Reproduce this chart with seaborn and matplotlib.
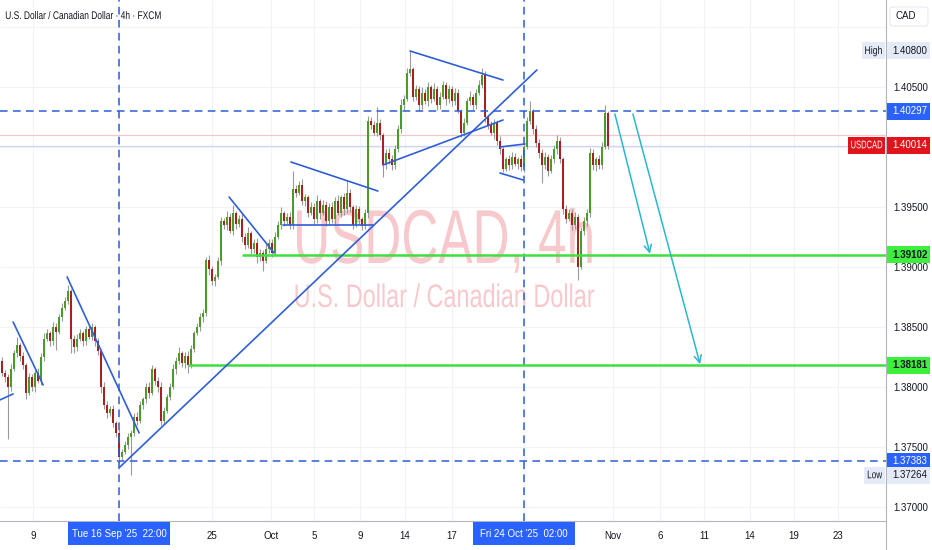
import numpy as np
import pandas as pd
import matplotlib
matplotlib.use("Agg")
import matplotlib.pyplot as plt
import matplotlib.transforms as mtransforms
from matplotlib import patheffects as pe
from matplotlib.patches import Rectangle, FancyBboxPatch
import seaborn as sns

# 4h candles (index = candle number)
first_open = 1.3822
closes = [
    1.3812, 1.3808, 1.3800, 1.3815, 1.3828, 1.3835, 1.3826, 1.3818, 1.3795, 1.3808,
    1.3800, 1.3812, 1.3805, 1.3825, 1.3840, 1.3845, 1.3838, 1.3850, 1.3846, 1.3858,
    1.3866, 1.3872, 1.3880, 1.3840, 1.3833, 1.3840, 1.3845, 1.3838, 1.3848, 1.3842,
    1.3850, 1.3838, 1.3830, 1.3800, 1.3785, 1.3778, 1.3782, 1.3770, 1.3762, 1.3742,
    1.3746, 1.3752, 1.3758, 1.3762, 1.3775, 1.3772, 1.3785, 1.3790, 1.3800, 1.3795,
    1.3815, 1.3805, 1.3800, 1.3772, 1.3780, 1.3792, 1.3800, 1.3815, 1.3822, 1.3828,
    1.3820, 1.3826, 1.3818, 1.3832, 1.3845, 1.3850, 1.3858, 1.3862, 1.3906, 1.3898,
    1.3888, 1.3892, 1.3905, 1.3938, 1.3935, 1.3942, 1.3930, 1.3945, 1.3936, 1.3940,
    1.3925, 1.3918, 1.3928, 1.3915, 1.3920, 1.3908, 1.3912, 1.3905, 1.3915, 1.3920,
    1.3912, 1.3925, 1.3935, 1.3945, 1.3938, 1.3942, 1.3935, 1.3965, 1.3962, 1.3968,
    1.3955, 1.3958, 1.3945, 1.3950, 1.3940, 1.3955, 1.3945, 1.3952, 1.3938, 1.3950,
    1.3940, 1.3955, 1.3945, 1.3958, 1.3948, 1.3962, 1.3950, 1.3935, 1.3948, 1.3940,
    1.3934, 1.3945, 1.4022, 1.4018, 1.4012, 1.4020, 1.4010, 1.3985, 1.3995, 1.3990,
    1.3985, 1.3998, 1.4015, 1.4035, 1.4040, 1.4062, 1.4065, 1.4042, 1.4048, 1.4035,
    1.4045, 1.4038, 1.4050, 1.4040, 1.4048, 1.4035, 1.4042, 1.4052, 1.4040, 1.4048,
    1.4038, 1.4045, 1.4030, 1.4012, 1.4020, 1.4038, 1.4042, 1.4035, 1.4045, 1.4052,
    1.4060, 1.4025, 1.4018, 1.4012, 1.4020, 1.4005, 1.3998, 1.3982, 1.3990, 1.3985,
    1.3992, 1.3986, 1.3990, 1.3983, 1.4000, 1.4022, 1.4030, 1.4015, 1.4003, 1.3995,
    1.3985, 1.3992, 1.3980, 1.3990, 1.3998, 1.4005, 1.3990, 1.3948, 1.3940, 1.3945,
    1.3935, 1.3942, 1.3900, 1.3930, 1.3938, 1.3945, 1.3995, 1.3985, 1.3990, 1.3985,
    1.4000, 1.4028, 1.4001,
]
# wick lengths above / below the body, in pips
wick_up = [
    3, 2, 3, 4, 3, 7, 2, 3, 2, 4,   3, 2, 4, 3, 5, 3, 2, 4, 3, 3,
    4, 3, 5, 2, 3, 4, 3, 2, 3, 4,   3, 2, 3, 2, 4, 3, 2, 3, 2, 3,
    2, 3, 4, 2, 3, 4, 3, 2, 3, 4,   3, 2, 3, 4, 3, 2, 3, 4, 3, 5,
    2, 3, 4, 3, 2, 3, 4, 3, 2, 4,   3, 2, 3, 4, 3, 5, 3, 7, 2, 3,
    4, 3, 5, 2, 3, 4, 3, 2, 4, 3,   3, 4, 3, 5, 2, 3, 4, 15, 3, 4,
    5, 3, 2, 4, 3, 5, 2, 4, 3, 3,   4, 3, 5, 2, 4, 10, 3, 2, 4, 3,
    2, 3, 4, 3, 4, 13, 3, 2, 3, 4,  3, 4, 3, 5, 3, 4, 15, 2, 4, 3,
    5, 3, 4, 2, 5, 3, 4, 3, 2, 4,   3, 4, 3, 2, 4, 3, 5, 2, 3, 4,
    6, 3, 2, 4, 3, 2, 4, 3, 2, 3,   4, 3, 2, 3, 4, 3, 8, 2, 3, 4,
    3, 4, 2, 3, 4, 5, 3, 2, 4, 3,   3, 4, 2, 3, 4, 3, 4, 3, 2, 3,
    4, 7, 2,
]
wick_dn = [
    3, 4, 43, 3, 2, 3, 4, 3, 5, 2,  3, 4, 2, 3, 3, 2, 4, 3, 15, 2,
    3, 2, 3, 12, 5, 3, 2, 4, 3, 2,  3, 4, 3, 5, 3, 4, 2, 3, 4, 5,
    3, 2, 4, 31, 3, 4, 2, 3, 3, 4,  2, 3, 4, 4, 3, 2, 3, 2, 4, 3,
    3, 4, 6, 2, 3, 2, 3, 4, 3, 5,   3, 4, 2, 3, 3, 4, 2, 3, 4, 3,
    4, 3, 2, 4, 3, 5, 3, 8, 2, 3,   4, 3, 2, 3, 4, 2, 3, 3, 4, 2,
    3, 4, 3, 2, 4, 3, 5, 2, 4, 3,   3, 4, 2, 3, 5, 3, 4, 3, 2, 4,
    3, 2, 4, 3, 2, 3, 4, 10, 3, 4,  4, 3, 2, 3, 4, 2, 3, 4, 3, 5,
    3, 2, 4, 3, 2, 4, 3, 2, 5, 3,   4, 3, 2, 4, 3, 2, 3, 4, 3, 2,
    3, 4, 3, 2, 5, 3, 4, 3, 2, 4,   3, 2, 4, 3, 4, 2, 3, 4, 3, 4,
    15, 3, 4, 2, 3, 4, 3, 4, 3, 2,  4, 3, 11, 2, 3, 4, 3, 4, 5, 3,
    3, 2, 3,
]

date_ticks = [10.3, 70, 89.7, 104, 119.3, 134.3, 150, 203.7, 219.3, 234, 249.3, 264, 278.7]
date_labels = ['9', '25', 'Oct', '5', '9', '14', '17', 'Nov', '6', '11', '14', '19', '23']
marked_idx = [39, 174]
marked_labels = ["Tue 16 Sep '25  22:00", "Fri 24 Oct '25  02:00"]

price_ticks = [1.370, 1.375, 1.380, 1.385, 1.390, 1.395, 1.400, 1.405, 1.410]
hidden_ticks = [1.400, 1.410]   # covered by the USDCAD / CAD badges
dashed_levels = [1.40297, 1.37383]
green_levels = [1.39102, 1.38181]
green_start = [80, 62]
last_price = 1.40014
high_price = 1.40800
low_price = 1.37264

# drawn lines: (candle index, price) pairs
trend_lines = [
    [(39.3, 1.37333), (178.3, 1.40642)],
    [(-0.7, 1.37892), (3.7, 1.37942)],
    [(3.7, 1.38542), (13.7, 1.38017)],
    [(21.7, 1.38917), (45.7, 1.37617)],
    [(75.7, 1.39583), (90.7, 1.39117)],
    [(96.3, 1.39875), (125.3, 1.39633)],
    [(93.7, 1.39350), (123.7, 1.39350)],
    [(136.0, 1.40800), (167.0, 1.40558)],
    [(127.0, 1.39850), (167.0, 1.40225)],
    [(166.0, 1.40000), (174.3, 1.40025)],
    [(166.0, 1.39783), (173.7, 1.39725)],
]
arrows = [
    [(204.3, 1.40275), (216.0, 1.39110)],
    [(210.3, 1.40275), (232.7, 1.38190)],
]

df = pd.DataFrame({'close': closes})
df['open'] = [first_open] + closes[:-1]
df['high'] = df[['open', 'close']].max(axis=1) + np.array(wick_up) * 0.0001
df['low'] = df[['open', 'close']].min(axis=1) - np.array(wick_dn) * 0.0001
df['idx'] = np.arange(len(df))


class Squeeze(pe.AbstractPathEffect):
    """draw text narrower (the screenshot font is condensed)"""

    def __init__(self, sx, anchor='center'):
        super().__init__()
        self.sx = sx
        self.anchor = anchor

    def draw_path(self, renderer, gc, tpath, affine, rgbFace=None):
        ext = tpath.transformed(affine).get_extents()
        x0 = ext.x0 if self.anchor == 'left' else 0.5 * (ext.x0 + ext.x1)
        aff = affine + mtransforms.Affine2D().translate(-x0, 0).scale(self.sx, 1).translate(x0, 0)
        renderer.draw_path(gc, tpath, aff, rgbFace)


sns.set_theme(style='white')
plt.rcParams['font.family'] = ['Liberation Sans', 'DejaVu Sans']
fs = 7.0
ink = '#131722'

W, H = 932, 550
fig = plt.figure(figsize=(W / 100, H / 100), dpi=100)
ax = fig.add_axes([0, 29 / H, 886 / W, 521 / H])
x_lo, x_hi = -0.67, 294.67
y_lo, y_hi = 1.36883, 1.41225
ax.set_xlim(x_lo, x_hi)
ax.set_ylim(y_lo, y_hi)

for p in price_ticks:
    ax.axhline(p, color='#f2f3f5', lw=0.8, zorder=0)
for t in date_ticks + marked_idx:
    ax.axvline(t, color='#f2f3f5', lw=0.8, zorder=0)

# watermark and title, squeezed to the widths of the reference
wm_color = '#f8c9cc'
wm1 = ax.text(0.501, (521 - 263) / 521, 'USDCAD, 4h', transform=ax.transAxes, ha='center',
              va='baseline', fontsize=55, color=wm_color, zorder=1)
wm2 = ax.text(0.501, (521 - 307) / 521, 'U.S. Dollar / Canadian Dollar', transform=ax.transAxes,
              ha='center', va='baseline', fontsize=23.5, color=wm_color, zorder=1)
title = fig.text(5 / W, 1 - 19 / H, 'U.S. Dollar / Canadian Dollar \u00b7 4h \u00b7 FXCM',
                 fontsize=8, color=ink, va='baseline', ha='left')
squeezed = [(wm1, 302, 'center'), (wm2, 301, 'center'), (title, 157, 'left')]

# price lines
ax.axhline(1.4010, color='#f7c6c9', lw=0.9, zorder=1)
ax.axhline(1.40005, color='#cdd6f4', lw=0.9, zorder=1)

# candles
up = df['close'] >= df['open']
body_colors = np.where(up, '#4c9a2a', '#a8201f')
ax.vlines(df['idx'], df['low'], df['high'], color='#9a9a9a', lw=0.8, zorder=3)
body_h = (df['close'] - df['open']).abs().clip(lower=0.00006)
ax.bar(df['idx'], body_h, bottom=df[['open', 'close']].min(axis=1), width=0.65,
       color=body_colors, linewidth=0, zorder=4)

blue = '#2c5ed8'
dash = (0, (5, 3.5))
for lv in dashed_levels:
    ax.axhline(lv, color=blue, lw=1.1, ls=dash, zorder=5)
for mi in marked_idx:
    ax.axvline(mi, color=blue, lw=1.1, ls=dash, zorder=5)

for lv, xs in zip(green_levels, green_start):
    ax.hlines(lv, xs, x_hi, color='#3de03d', lw=1.8, zorder=5)

rows = []
for k, seg in enumerate(trend_lines):
    for x, y in seg:
        rows.append({'line': k, 'x': x, 'price': y})
trend_df = pd.DataFrame(rows)
sns.lineplot(data=trend_df, x='x', y='price', units='line', estimator=None, sort=False,
             color='#2f5fd6', lw=1.2, ax=ax, legend=False, zorder=6)

for start, end in arrows:
    ax.annotate('', xy=end, xytext=start,
                arrowprops=dict(arrowstyle='->', color='#2bb7cc', lw=1.1, mutation_scale=13,
                                shrinkA=0, shrinkB=0), zorder=6)

# axes styling
for s in ['top', 'left']:
    ax.spines[s].set_visible(False)
for s in ['right', 'bottom']:
    ax.spines[s].set_color('#b2b5be')
    ax.spines[s].set_linewidth(0.8)
fig.add_artist(plt.Line2D([886 / W, 886 / W], [0, 29 / H], transform=fig.transFigure,
                          color='#b2b5be', lw=0.8))

ax.set_xlabel('')
ax.set_ylabel('')
ax.yaxis.tick_right()
ax.set_yticks(price_ticks)
ax.set_yticklabels(['' if p in hidden_ticks else f'{p:.5f}' for p in price_ticks])
ax.set_xticks(date_ticks)
ax.set_xticklabels(date_labels)
ax.tick_params(axis='y', length=0, pad=5, labelsize=fs, labelcolor=ink)
ax.tick_params(axis='x', length=0, pad=7, labelsize=fs, labelcolor=ink)

# highlighted dates on time axis
xt = mtransforms.blended_transform_factory(ax.transData, ax.transAxes)
for mi, lab in zip(marked_idx, marked_labels):
    ax.add_patch(Rectangle((mi - 17, -0.046), 34, 0.044, transform=xt, fc='#2962ff', ec='none',
                           clip_on=False, zorder=19))
    ax.text(mi, -0.024, lab, transform=xt, ha='center', va='center', fontsize=fs,
            color='white', clip_on=False, zorder=20)

# price scale badges (x in figure pixels, y in price)
yt = mtransforms.blended_transform_factory(fig.transFigure, ax.transData)
badge_h = 17 / 12000


def badge(price, text, x0, x1, fc, tc, weight='normal', text_w=None):
    ax.add_patch(Rectangle((x0 / W, price - badge_h / 2), (x1 - x0) / W, badge_h, transform=yt,
                           fc=fc, ec='none', clip_on=False, zorder=19))
    right_side = x0 > 880
    t = ax.text((x0 + 5) / W if right_side else (x0 + x1) / 2 / W, price, text, transform=yt,
                ha='left' if right_side else 'center', va='center',
                fontsize=fs if right_side else 8, color=tc,
                fontweight=weight, clip_on=False, zorder=20)
    if text_w:
        squeezed.append((t, text_w, 'center'))


light = '#e4ebf6'
badge(high_price, f'{high_price:.5f}', 887, 930, light, ink)
badge(high_price, 'High', 862, 885, light, ink, text_w=18)
badge(dashed_levels[0], f'{dashed_levels[0]:.5f}', 887, 930, '#2962ff', 'white')
badge(last_price, f'{last_price:.5f}', 887, 930, '#e0141a', 'white')
badge(last_price, 'USDCAD', 848, 885, '#e0141a', 'white', text_w=32)
badge(green_levels[0], f'{green_levels[0]:.5f}', 887, 930, '#3cf03c', ink, 'bold')
badge(green_levels[1], f'{green_levels[1]:.5f}', 887, 930, '#3cf03c', ink, 'bold')
badge(dashed_levels[1], f'{dashed_levels[1]:.5f}', 887, 930, '#2962ff', 'white')
badge(low_price, f'{low_price:.5f}', 887, 930, light, ink)
badge(low_price, 'Low', 864, 885, light, ink, text_w=15)

fig.add_artist(FancyBboxPatch((890 / W, 1 - 26 / H), 38 / W, 19 / H, transform=fig.transFigure,
                              boxstyle='round,pad=0,rounding_size=0.004', fc='white',
                              ec='#e0e3eb', lw=0.6, zorder=29))
fig.text(895 / W, 1 - 16 / H, 'CAD', fontsize=fs, color=ink, va='center', ha='left', zorder=30)

# narrow the texts to the measured widths
fig.canvas.draw()
rend = fig.canvas.get_renderer()
for t, target, anchor in squeezed:
    w = t.get_window_extent(rend).width
    t.set_path_effects([Squeeze(min(1.0, target / w), anchor)])

fig.savefig('out.png', dpi=100, facecolor='white')
